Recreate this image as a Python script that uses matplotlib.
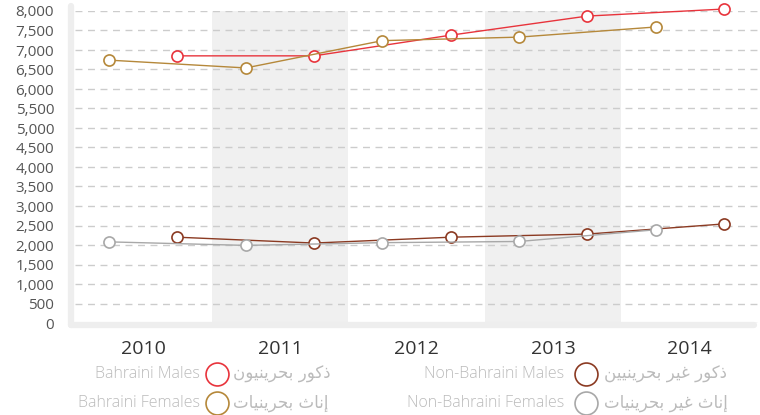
import numpy as np
import matplotlib
matplotlib.use("Agg")
from matplotlib import pyplot as plt
from matplotlib.lines import Line2D
from matplotlib.ticker import FuncFormatter

years = ["2010", "2011", "2012", "2013", "2014"]

bahraini_males = [6850, 6850, 7380, 7870, 8050]
bahraini_females = [6740, 6540, 7240, 7330, 7590]
non_bahraini_males = [2200, 2050, 2200, 2280, 2540]
non_bahraini_females = [2080, 1990, 2060, 2090, 2390]

labels_en = ["Bahraini Males", "Bahraini Females", "Non-Bahraini Males", "Non-Bahraini Females"]
labels_ar = ["ذكور بحرينيون", "إناث بحرينيات", "ذكور غير بحرينيين", "إناث غير بحرينيات"]

# formes de presentation: isolee, finale, initiale, mediane
FORMS = {
    '\u0628': '\ufe8f\ufe90\ufe91\ufe92',
    '\u062d': '\ufea1\ufea2\ufea3\ufea4',
    '\u064a': '\ufef1\ufef2\ufef3\ufef4',
    '\u0646': '\ufee5\ufee6\ufee7\ufee8',
    '\u0643': '\ufed9\ufeda\ufedb\ufedc',
    '\u062b': '\ufe99\ufe9a\ufe9b\ufe9c',
    '\u062a': '\ufe95\ufe96\ufe97\ufe98',
    '\u063a': '\ufecd\ufece\ufecf\ufed0',
    '\u0630': '\ufeab\ufeac',
    '\u0631': '\ufead\ufeae',
    '\u0648': '\ufeed\ufeee',
    '\u0627': '\ufe8d\ufe8e',
    '\u0625': '\ufe87\ufe88',
}

def shape(text):
    out = []
    for i, ch in enumerate(text):
        f = FORMS.get(ch)
        if f is None:
            out.append(ch)
            continue
        prev = text[i-1] if i > 0 else ''
        nxt = text[i+1] if i + 1 < len(text) else ''
        joins_prev = prev in FORMS and len(FORMS[prev]) == 4
        joins_next = len(f) == 4 and nxt in FORMS
        out.append(f[(1 if joins_prev else 0) + (2 if joins_next else 0)])
    return ''.join(reversed(out))

plt.rcParams['font.family'] = ['Open Sans', 'DejaVu Sans']

fig = plt.figure(figsize=(7.6, 4.15), dpi=100)
ax = fig.add_axes([75/760, 92/415, 683/760, 312/415])

x = np.arange(len(years))
for b in (1, 3):
    ax.axvspan(b - 0.5, b + 0.5, color='#f0f0f0', zorder=0, lw=0)

for v in np.arange(0, 8001, 500):
    ax.axhline(v, color='#cccccc', lw=1, dashes=(5, 4), zorder=1)

series = [
    (bahraini_males, 0.25, '#e8343c'),
    (bahraini_females, -0.25, '#b5883a'),
    (non_bahraini_males, 0.25, '#8b3a22'),
    (non_bahraini_females, -0.25, '#a8a8a8'),
]
for vals, off, col in series:
    ax.plot(x + off, vals, color=col, lw=1, marker='o', markersize=8,
            markerfacecolor='white', markeredgecolor=col, markeredgewidth=1.2,
            clip_on=False, zorder=3)

ax.set_xlim(-0.5, 4.5)
ax.set_ylim(0, 8000)
ax.set_yticks(np.arange(0, 8001, 500))
ax.yaxis.set_major_formatter(FuncFormatter(lambda v, p: f"{int(v):,}"))
ax.set_xticks(x)
ax.set_xticklabels(years)
ax.tick_params(axis='y', length=0, pad=15, labelsize=11, labelcolor='#555555')
ax.tick_params(axis='x', length=0, pad=12, labelsize=14, labelcolor='#333333')
for s in ax.spines.values():
    s.set_visible(False)

# barres grises des axes
fig.add_artist(Line2D([71/760, 71/760], [1 - 6/415, 1 - 325/415], color='#eeeeee',
                      lw=4.5, solid_capstyle='round'))
fig.add_artist(Line2D([71/760, 754/760], [1 - 325/415, 1 - 325/415], color='#eeeeee',
                      lw=4.5, solid_capstyle='round'))

# legende
cols = ['#e8343c', '#b5883a', '#8b3a22', '#a8a8a8']
rows_y = [1 - 374/415, 1 - 403/415]
groups = [(200, 217, 233), (564, 585.5, 604)]
for i in range(4):
    g = groups[i // 2]
    yy = rows_y[i % 2]
    fig.text(g[0]/760, yy, labels_en[i], ha='right', va='center', fontsize=11.5,
             color='#bbbbbb', fontweight='light')
    fig.add_artist(Line2D([g[1]/760], [yy], marker='o', markersize=16.5,
                          markerfacecolor='white', markeredgecolor=cols[i],
                          markeredgewidth=1.2))
    fig.text(g[2]/760, yy, shape(labels_ar[i]), ha='left', va='center', fontsize=12,
             color='#bbbbbb', family='DejaVu Sans')

fig.savefig('out.png', dpi=100)
